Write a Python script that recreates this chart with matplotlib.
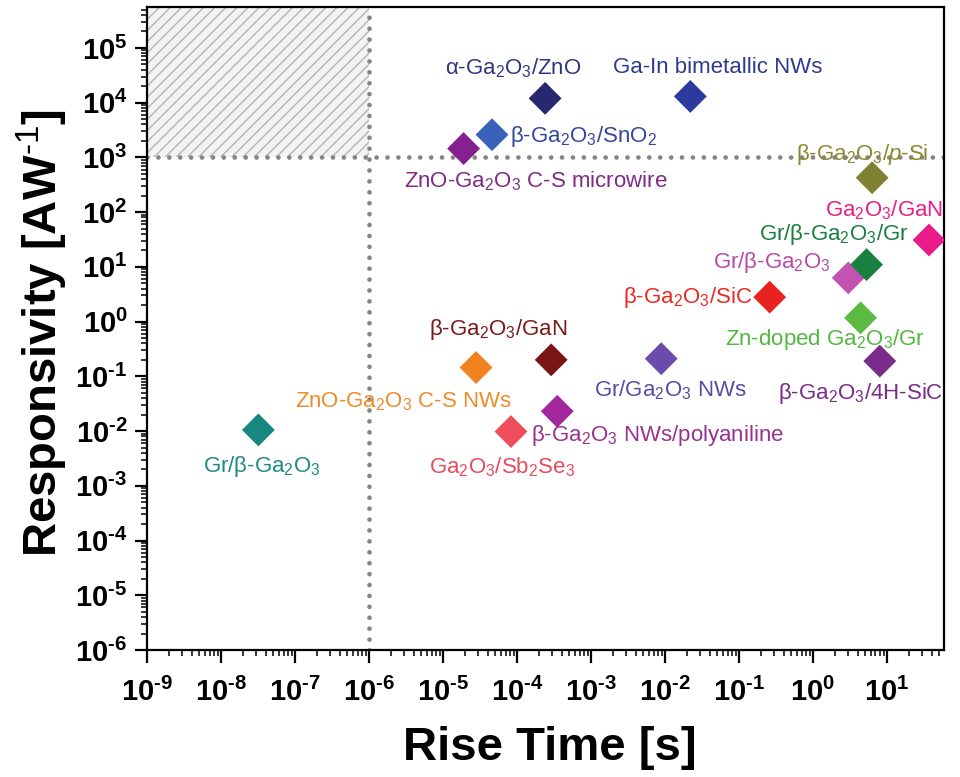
import matplotlib
matplotlib.use("Agg")
import matplotlib.pyplot as plt
import numpy as np
from matplotlib.ticker import LogLocator, FuncFormatter, NullFormatter
from matplotlib.patches import Rectangle

plt.rcParams['font.family'] = ['Liberation Sans', 'DejaVu Sans']
plt.rcParams['mathtext.fontset'] = 'custom'
plt.rcParams['mathtext.rm'] = 'Liberation Sans'
plt.rcParams['mathtext.it'] = 'Liberation Sans:italic'
plt.rcParams['mathtext.bf'] = 'Liberation Sans:bold'
plt.rcParams['hatch.linewidth'] = 1.0

# ---------------- data ----------------
labels = [
    r'Gr/β-Ga$_2$O$_3$',
    r'ZnO-Ga$_2$O$_3$ C-S NWs',
    r'β-Ga$_2$O$_3$/GaN',
    r'Ga$_2$O$_3$/Sb$_2$Se$_3$',
    r'β-Ga$_2$O$_3$ NWs/polyaniline',
    r'Gr/Ga$_2$O$_3$ NWs',
    r'β-Ga$_2$O$_3$/SiC',
    r'Gr/β-Ga$_2$O$_3$',
    r'Gr/β-Ga$_2$O$_3$/Gr',
    r'Zn-doped Ga$_2$O$_3$/Gr',
    r'β-Ga$_2$O$_3$/4H-SiC',
    r'Ga$_2$O$_3$/GaN',
    r'β-Ga$_2$O$_3$/$\mathit{p}$-Si',
    r'ZnO-Ga$_2$O$_3$ C-S microwire',
    r'β-Ga$_2$O$_3$/SnO$_2$',
    r'α-Ga$_2$O$_3$/ZnO',
    'Ga-In bimetallic NWs',
]
rise_time = [3.2e-8, 2.8e-5, 2.9e-4, 8.3e-5, 3.5e-4, 8.9e-3, 0.26, 3.0, 5.3,
             4.4, 8.0, 37, 6.3, 1.9e-5, 4.6e-5, 2.4e-4, 0.022]
responsivity = [1.05e-2, 0.145, 0.2, 0.0098, 0.023, 0.21, 2.8, 6.3, 11,
                1.17, 0.19, 31, 425, 1450, 2600, 1.2e4, 1.3e4]

x_limits = (1e-9, 59)
y_limits = (1e-6, 5.6e5)
x_threshold = 1e-6
y_threshold = 1e3

# ---------------- styles ----------------
marker_colors = ['#17877f', '#f2811f', '#7b1414', '#ef4d5b', '#a3289c', '#6b4bab',
                 '#e8231f', '#c253b3', '#19803f', '#5cb942', '#7a2b8c', '#ea1c8a',
                 '#808033', '#84218f', '#3b62b9', '#27286f', '#2b3a9c']
text_colors = ['#1f8a84', '#f08a2a', '#7b1a1a', '#ea4a5a', '#99318f', '#5b4aa5',
               '#e82a24', '#b84aa8', '#1a7f3e', '#52b840', '#7a2b88', '#e61f86',
               '#8a8a2e', '#7e2a86', '#33479c', '#2f3680', '#2f3a8e']
# offsets in pixels (dx, dy) and horizontal alignment
offsets = [(3, -37, 'center'), (-73, -34, 'center'), (-53, 30, 'center'),
           (-9, -36, 'center'), (-26, -24, 'left'), (9, -31, 'center'),
           (-17, 0, 'right'), (-18, 15, 'right'), (-33, 30, 'center'),
           (-36, -22, 'center'), (-19, -32, 'center'), (-45, 30, 'center'),
           (-10, 23, 'center'), (72, -33, 'center'), (18, -2, 'left'),
           (-32, 30, 'center'), (27, 29, 'center')]

fig = plt.figure(figsize=(9.6, 7.77), dpi=100)
L, R, T, B = 147, 944, 7, 650
ax = fig.add_axes([L / 960, 1 - B / 777, (R - L) / 960, (B - T) / 777])
ax.set_xscale('log')
ax.set_yscale('log')
ax.set_xlim(*x_limits)
ax.set_ylim(*y_limits)

# hatched target region
rect = Rectangle((x_limits[0], y_threshold), x_threshold - x_limits[0],
                 y_limits[1] - y_threshold, facecolor='#f3f3f3',
                 edgecolor='#b4b4b4', hatch='///', linewidth=0, zorder=0)
ax.add_patch(rect)

# dotted threshold lines
dot_kw = dict(color='#858585', linewidth=3.4, linestyle=(0, (0.01, 2.3)),
              dash_capstyle='round', zorder=1)
ax.axvline(x_threshold, **dot_kw)
ax.axhline(y_threshold, **dot_kw)

for i in range(len(labels)):
    ax.scatter(rise_time[i], responsivity[i], marker='D', s=280,
               color=marker_colors[i], edgecolors='none', zorder=3)
    dx, dy, ha = offsets[i]
    ax.annotate(labels[i], (rise_time[i], responsivity[i]), xytext=(dx, dy),
                textcoords='offset pixels', ha=ha, va='center',
                fontsize=16, color=text_colors[i], zorder=4)

# axes styling
for sp in ax.spines.values():
    sp.set_linewidth(1.6)
    sp.set_color('black')


def log_label(v, pos):
    e = int(round(np.log10(v)))
    s = str(e).replace('-', '\u2010')
    return r'$\mathbf{10^{%s}}$' % s


ax.xaxis.set_major_locator(LogLocator(base=10, numticks=30))
ax.yaxis.set_major_locator(LogLocator(base=10, numticks=30))
ax.xaxis.set_minor_locator(LogLocator(base=10, subs=np.arange(2, 10), numticks=30))
ax.yaxis.set_minor_locator(LogLocator(base=10, subs=np.arange(2, 10), numticks=30))
ax.xaxis.set_major_formatter(FuncFormatter(log_label))
ax.yaxis.set_major_formatter(FuncFormatter(log_label))
ax.xaxis.set_minor_formatter(NullFormatter())
ax.yaxis.set_minor_formatter(NullFormatter())

ax.tick_params(which='major', direction='out', length=9, width=1.6,
               labelsize=21, top=False, right=False)
ax.tick_params(axis='x', which='major', pad=11)
ax.tick_params(axis='y', which='major', pad=5)
ax.tick_params(which='minor', direction='out', length=4.5, width=1.1,
               top=False, right=False)

ax.set_xlabel('Rise Time [s]', fontsize=34, fontweight='bold')
ax.set_ylabel('Responsivity [AW$^{\\text{\u20101}}$]', fontsize=34, fontweight='bold')
ax.xaxis.set_label_coords((550 - L) / (R - L), -(726 - B) / (B - T))
ax.yaxis.set_label_coords((70 - L) / (R - L), (B - 333) / (B - T))

fig.savefig('out.png', dpi=100)
